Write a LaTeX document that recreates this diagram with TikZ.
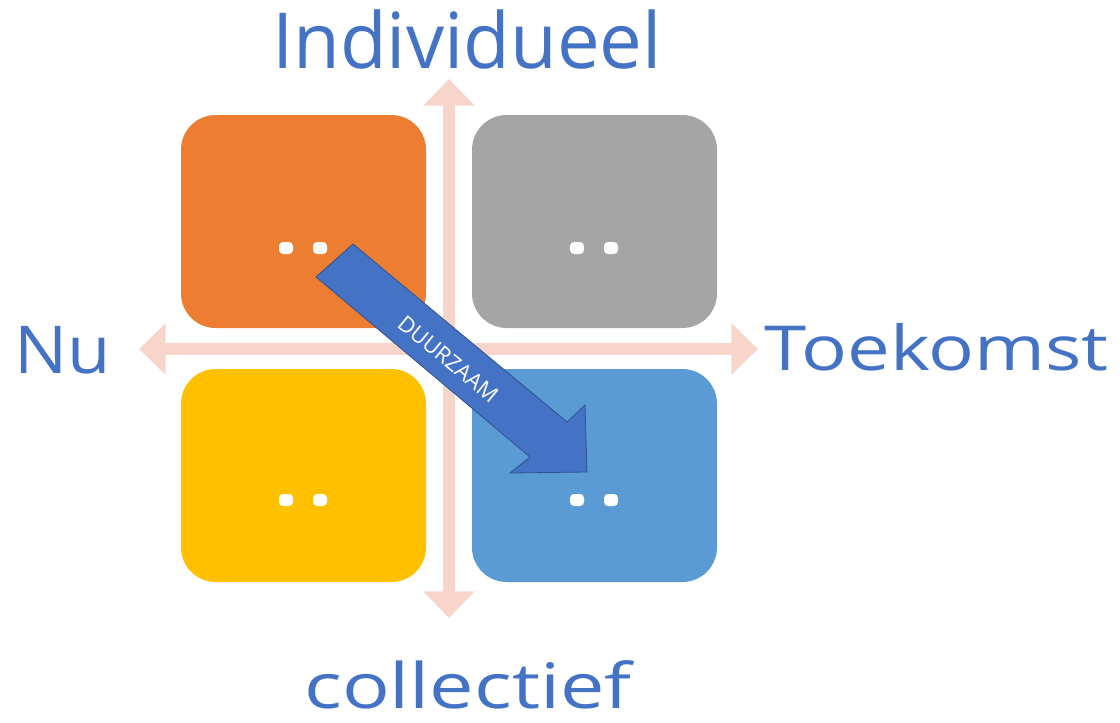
\documentclass[tikz,border=0pt]{standalone}
\usepackage{fontspec}
\setmainfont{Open Sans}
\usetikzlibrary{arrows.meta}
\definecolor{cOrange}{HTML}{ED7D31}
\definecolor{cGray}{HTML}{A5A5A5}
\definecolor{cYellow}{HTML}{FFC000}
\definecolor{cLBlue}{HTML}{5B9BD5}
\definecolor{cBlue}{HTML}{4472C4}
\definecolor{cBlueDark}{HTML}{2F528F}
\definecolor{cPink}{HTML}{F7D5CB}
\tikzset{
  quad/.style={minimum width=183.75pt, minimum height=159.75pt, rounded corners=26pt, inner sep=0pt},
  dotbox/.style={fill=white, minimum width=10.5pt, minimum height=9pt, rounded corners=3pt, inner sep=0pt},
  axisarrow/.style={cPink, line width=9pt, {Triangle[width=37.5pt,length=20pt]}-{Triangle[width=37.5pt,length=20pt]}},
  label/.style={text=cBlue, inner sep=0pt, anchor=base west},
}
\begin{document}
\begin{tikzpicture}[x=0.75pt, y=-0.75pt]
\useasboundingbox (0,0) rectangle (1120,722);
% axes
\coordinate (ytop) at (449,79);
\coordinate (ybot) at (449,618);
\coordinate (xleft) at (139,349);
\coordinate (xright) at (758,349);
\draw[axisarrow] (ytop) -- (ybot);
\draw[axisarrow] (xleft) -- (xright);
% quadrants
\node[quad, fill=cOrange] (q1) at (303.5,221.5) {};
\node[quad, fill=cGray]   (q2) at (594.5,221.5) {};
\node[quad, fill=cYellow] (q3) at (303.5,475.5) {};
\node[quad, fill=cLBlue]  (q4) at (594.5,475.5) {};
% dots
\node[dotbox] (d1a) at (286,248) {};
\node[dotbox] (d1b) at (320,248) {};
\node[dotbox] (d2a) at (577,248) {};
\node[dotbox] (d2b) at (611,248) {};
\node[dotbox] (d3a) at (286,500) {};
\node[dotbox] (d3b) at (320,500) {};
\node[dotbox] (d4a) at (577,500) {};
\node[dotbox] (d4b) at (611,500) {};
% big arrow
\draw[fill=cBlue, draw=cBlueDark, line width=0.6pt, line join=miter]
  (353,244) -- (567,422) -- (585,405) -- (587,472) -- (510,473) -- (530,457) -- (316,277) -- cycle;
\node[text=white, rotate=-39.5, inner sep=0pt, font=\fontsize{16.5}{18}\selectfont] (dz) at (448,359) {DUURZAAM};
% labels
\node[label, font=\fontsize{58}{60}\selectfont] (lind) at (272,68) {\scalebox{0.985}[1]{Individueel}};
\node[label, font=\fontsize{49.5}{52}\selectfont] (lnu) at (14,373) {\scalebox{1.07}[1]{Nu}};
\node[label, font=\fontsize{46.5}{48}\selectfont] (ltoe) at (764,370) {\scalebox{1.23}[1]{Toekomst}};
\node[label, font=\fontsize{47}{49}\selectfont] (lcol) at (304,708) {\scalebox{1.265}[1]{collectief}};
\end{tikzpicture}
\end{document}
